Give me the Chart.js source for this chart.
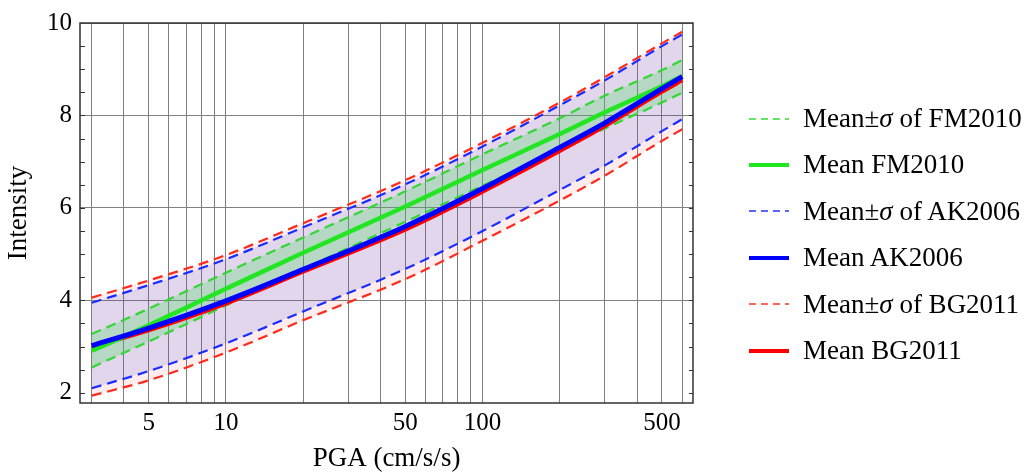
<!DOCTYPE html>
<html>
<head>
<meta charset="utf-8">
<script src="https://cdn.jsdelivr.net/npm/chart.js@4.4.1/dist/chart.umd.min.js"></script>
<style>
  body { margin: 0; background: #fff; }
  #wrap { position: relative; width: 1035px; height: 475px; }
  #legend { position: absolute; left: 749px; top: 0; font-family: "Liberation Serif", serif; font-size: 27px; color: #000; }
  .item { position: absolute; left: 0; height: 30px; white-space: nowrap; display: flex; align-items: center; }
  .item svg { width: 40px; height: 10px; margin-right: 14px; }
</style>
</head>
<body>
<div id="wrap">
  <canvas id="c" width="1035" height="475"></canvas>
  <div id="legend"></div>
</div>
<script>
// PGA values (cm/s/s) where the curves were read
var pga = [3, 5, 10, 20, 50, 100, 200, 300, 500, 600];

// FM2010
var fmMean  = [2.91, 3.46, 4.25, 5.03, 6.03, 6.82, 7.60, 8.07, 8.63, 8.85];
var fmUpper = [3.27, 3.82, 4.60, 5.36, 6.36, 7.16, 7.94, 8.43, 8.98, 9.20];
var fmLower = [2.55, 3.11, 3.89, 4.68, 5.70, 6.48, 7.26, 7.72, 8.28, 8.49];

// AK2006
var akMean  = [3.02, 3.40, 3.99, 4.67, 5.60, 6.42, 7.31, 7.84, 8.58, 8.84];
var akUpper = [3.95, 4.33, 4.89, 5.58, 6.51, 7.33, 8.22, 8.76, 9.50, 9.75];
var akLower = [2.10, 2.47, 3.07, 3.76, 4.68, 5.50, 6.39, 6.92, 7.66, 7.92];

// BG2011
var bgMean  = [2.99, 3.35, 3.93, 4.62, 5.53, 6.35, 7.23, 7.77, 8.51, 8.76];
var bgUpper = [4.06, 4.43, 4.98, 5.67, 6.60, 7.41, 8.28, 8.83, 9.56, 9.81];
var bgLower = [1.94, 2.27, 2.87, 3.57, 4.46, 5.29, 6.16, 6.70, 7.45, 7.70];

// axis ticks
var xGrid   = [3, 4, 5, 6, 7, 8, 9, 10, 20, 30, 40, 50, 60, 70, 80, 90, 100, 200, 300, 400, 500, 600];
var xLabels = [5, 10, 50, 100, 500];
var yTicks  = [2, 4, 6, 8, 10];
var yMinor  = [2, 2.5, 3, 3.5, 4, 4.5, 5, 5.5, 6, 6.5, 7, 7.5, 8, 8.5, 9, 9.5];

var legendItems = [
  { label: 'Mean&plusmn;<i>&sigma;</i> of FM2010', color: '#33dd33', dash: true },
  { label: 'Mean FM2010', color: '#22e622', dash: false },
  { label: 'Mean&plusmn;<i>&sigma;</i> of AK2006', color: '#2233ff', dash: true },
  { label: 'Mean AK2006', color: '#0000ff', dash: false },
  { label: 'Mean&plusmn;<i>&sigma;</i> of BG2011', color: '#ff3322', dash: true },
  { label: 'Mean BG2011', color: '#ff0000', dash: false }
];

function pts(ys) {
  return pga.map(function(x, i){ return { x: x, y: ys[i] }; });
}

function meanLine(ys, color, w) {
  return { data: pts(ys), borderColor: color, borderWidth: w, fill: false };
}

function sigmaLine(ys, color, fillColor) {
  var ds = { data: pts(ys), borderColor: color, borderWidth: 2.2, borderDash: [10, 6], fill: false };
  if (fillColor) {
    ds.fill = '+1';
    ds.backgroundColor = fillColor;
  }
  return ds;
}

var frame = {
  id: 'frame',
  afterDatasetsDraw: function(chart){
    var a = chart.chartArea, ctx = chart.ctx, y = chart.scales.y;
    ctx.save();
    ctx.strokeStyle = '#333';
    ctx.lineWidth = 1.5;
    ctx.strokeRect(a.left, a.top, a.right - a.left, a.bottom - a.top);
    ctx.lineWidth = 1;
    ctx.beginPath();
    for (var i = 0; i < yMinor.length; i++) {
      var py = Math.round(y.getPixelForValue(yMinor[i])) + 0.5;
      ctx.moveTo(a.left, py); ctx.lineTo(a.left + 5, py);
      ctx.moveTo(a.right, py); ctx.lineTo(a.right - 4, py);
    }
    ctx.stroke();
    ctx.restore();
  }
};

Chart.defaults.font.family = '"Liberation Serif", serif';
Chart.defaults.color = '#000';

new Chart(document.getElementById('c'), {
  type: 'line',
  data: {
    datasets: [
      meanLine(akMean, '#0000ff', 5),
      meanLine(fmMean, '#22e622', 4.5),
      meanLine(bgMean, '#ff0000', 4),
      sigmaLine(fmUpper, '#33d633', 'rgba(80,215,95,0.3)'),
      sigmaLine(fmLower, '#33d633'),
      sigmaLine(akUpper, '#1a2cff', 'rgba(60,90,240,0.15)'),
      sigmaLine(akLower, '#1a2cff'),
      sigmaLine(bgUpper, '#ff2a1a', 'rgba(255,0,0,0.075)'),
      sigmaLine(bgLower, '#ff2a1a')
    ]
  },
  options: {
    responsive: false,
    animation: false,
    devicePixelRatio: 1,
    layout: { padding: { top: 23, right: 342, left: 0, bottom: 0 } },
    elements: { point: { radius: 0 }, line: { cubicInterpolationMode: 'monotone' } },
    plugins: {
      legend: { display: false },
      tooltip: { enabled: false },
      filler: { drawTime: 'beforeDatasetsDraw' }
    },
    scales: {
      x: {
        type: 'logarithmic',
        min: 2.7,
        max: 661,
        afterBuildTicks: function(s){ s.ticks = xGrid.map(function(v){ return { value: v }; }); },
        afterFit: function(s){ s.height = 72; },
        ticks: {
          autoSkip: false,
          maxRotation: 0,
          padding: 5,
          font: { size: 25 },
          callback: function(v){ return xLabels.indexOf(v) >= 0 ? String(v) : ''; }
        },
        grid: { color: '#808080', lineWidth: 1, drawTicks: false },
        border: { display: false },
        title: { display: true, text: 'PGA (cm/s/s)', font: { size: 27 }, padding: 0 }
      },
      y: {
        type: 'linear',
        min: 1.78,
        max: 10,
        afterBuildTicks: function(s){ s.ticks = yTicks.map(function(v){ return { value: v }; }); },
        afterFit: function(s){ s.width = 80; },
        ticks: { padding: 8, font: { size: 25 } },
        grid: {
          color: function(c){ return c.tick && c.tick.value === 2 ? 'rgba(0,0,0,0)' : '#808080'; },
          lineWidth: 1,
          drawTicks: false
        },
        border: { display: false },
        title: { display: true, text: 'Intensity', font: { size: 27 }, padding: { top: 3, bottom: 0 } }
      }
    }
  },
  plugins: [frame]
});

// legend drawn as html next to the plot
var lg = document.getElementById('legend');
var firstY = 118.5, step = 46.4;
legendItems.forEach(function(it, i){
  var d = document.createElement('div');
  d.className = 'item';
  d.style.top = (firstY + i * step - 15) + 'px';
  var line = it.dash
    ? '<line x1="0" y1="5" x2="40" y2="5" stroke="' + it.color + '" stroke-width="1.6" stroke-dasharray="7,5"/>'
    : '<line x1="0" y1="5" x2="40" y2="5" stroke="' + it.color + '" stroke-width="4"/>';
  d.innerHTML = '<svg viewBox="0 0 40 10">' + line + '</svg><span>' + it.label + '</span>';
  lg.appendChild(d);
});
</script>
</body>
</html>
